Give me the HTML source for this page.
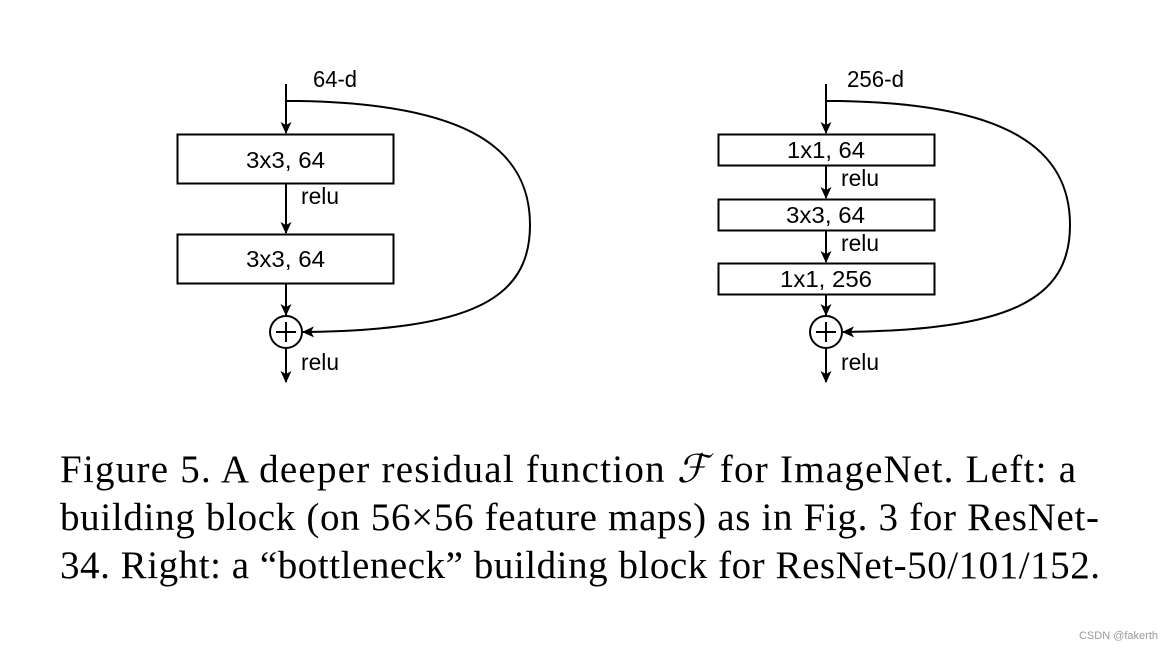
<!DOCTYPE html>
<html><head><meta charset="utf-8"><style>
html,body{margin:0;padding:0;background:#fff;}
svg{display:block;}
.d{font-family:"Liberation Sans",sans-serif;font-size:23px;fill:#000;}
.c{font-family:"Liberation Serif",serif;font-size:39px;fill:#000;}
</style></head><body>
<svg width="1172" height="650" viewBox="0 0 1172 650" xmlns="http://www.w3.org/2000/svg">
<defs>
<marker id="a" markerWidth="12" markerHeight="12" refX="11" refY="6" orient="auto" markerUnits="userSpaceOnUse">
<path d="M0,0.5 L12,6 L0,11.5 L3,6 Z" fill="#000"/>
</marker>
</defs>
<g stroke="#000" stroke-width="2" fill="none">
<line x1="286" y1="84" x2="286" y2="133" marker-end="url(#a)"/>
<rect x="177.5" y="134.5" width="216" height="49" fill="#fff"/>
<line x1="286" y1="184" x2="286" y2="233" marker-end="url(#a)"/>
<rect x="177.5" y="234.5" width="216" height="49" fill="#fff"/>
<line x1="286" y1="284" x2="286" y2="315" marker-end="url(#a)"/>
<circle cx="286" cy="332" r="16"/>
<line x1="276" y1="332" x2="296" y2="332"/><line x1="286" y1="322" x2="286" y2="342"/>
<line x1="286" y1="348" x2="286" y2="382" marker-end="url(#a)"/>
<path d="M286,101 L300,101 C470,104 530,150 530,225 C530,300 470,330 303,332" marker-end="url(#a)"/>
<line x1="826" y1="84" x2="826" y2="133" marker-end="url(#a)"/>
<rect x="718.5" y="134.5" width="216" height="31" fill="#fff"/>
<line x1="826" y1="166" x2="826" y2="198" marker-end="url(#a)"/>
<rect x="718.5" y="199.5" width="216" height="31" fill="#fff"/>
<line x1="826" y1="231" x2="826" y2="262" marker-end="url(#a)"/>
<rect x="718.5" y="263.5" width="216" height="31" fill="#fff"/>
<line x1="826" y1="295" x2="826" y2="315" marker-end="url(#a)"/>
<circle cx="826" cy="332" r="16"/>
<line x1="816" y1="332" x2="836" y2="332"/><line x1="826" y1="322" x2="826" y2="342"/>
<line x1="826" y1="348" x2="826" y2="382" marker-end="url(#a)"/>
<path d="M826,101 L840,101 C1010,104 1070,150 1070,225 C1070,300 1010,330 843,332" marker-end="url(#a)"/>
</g>
<g class="d">
<text x="313" y="87" textLength="44" lengthAdjust="spacingAndGlyphs">64-d</text>
<text x="246" y="168" textLength="79" lengthAdjust="spacingAndGlyphs">3x3, 64</text>
<text x="301" y="204" textLength="38" lengthAdjust="spacingAndGlyphs">relu</text>
<text x="246" y="267" textLength="79" lengthAdjust="spacingAndGlyphs">3x3, 64</text>
<text x="301" y="370" textLength="38" lengthAdjust="spacingAndGlyphs">relu</text>
<text x="847" y="87" textLength="57" lengthAdjust="spacingAndGlyphs">256-d</text>
<text x="787" y="158" textLength="78" lengthAdjust="spacingAndGlyphs">1x1, 64</text>
<text x="841" y="186" textLength="38" lengthAdjust="spacingAndGlyphs">relu</text>
<text x="786" y="223" textLength="79" lengthAdjust="spacingAndGlyphs">3x3, 64</text>
<text x="841" y="251" textLength="38" lengthAdjust="spacingAndGlyphs">relu</text>
<text x="780" y="287" textLength="92" lengthAdjust="spacingAndGlyphs">1x1, 256</text>
<text x="841" y="370" textLength="38" lengthAdjust="spacingAndGlyphs">relu</text>
</g>
<g class="c">
<text x="60" y="482" textLength="1016" lengthAdjust="spacing">Figure 5. A deeper residual function <tspan font-style="italic">ℱ</tspan> for ImageNet.  Left: a</text>
<text x="60" y="530" textLength="1039" lengthAdjust="spacing">building block (on 56×56 feature maps) as in Fig. 3 for ResNet-</text>
<text x="60" y="578" textLength="1040" lengthAdjust="spacing">34. Right: a “bottleneck” building block for ResNet-50/101/152.</text>
</g>
<text x="1158" y="639" text-anchor="end" font-family="Liberation Sans,sans-serif" font-size="11" fill="#999">CSDN @fakerth</text>
</svg>
</body></html>
